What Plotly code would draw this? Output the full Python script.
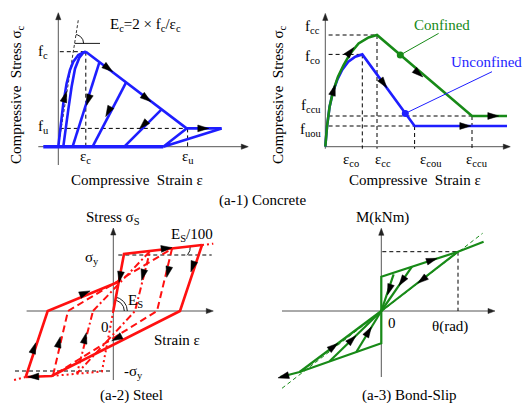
import numpy as np
import plotly.graph_objects as go

W, H = 523, 403
FONT = "Liberation Serif"

# ---------------- data (local units, origin at each panel's axis origin) -------------
# (a-1) Concrete
conc_up_x = [0, 2.7, 5, 8.3, 11.7, 15, 20, 25, 27.5]
conc_up_y = [0, 23.3, 43.3, 63.3, 76.7, 85, 91.7, 94.3, 95]
conc_re_x = [5, 7.5, 10, 13.3, 16.7, 21, 25, 27.5]
conc_re_y = [0, 20, 37, 60, 78, 89, 94, 95]
conc_soft_x = [27.5, 128.3, 163.3]
conc_soft_y = [95, 18.3, 18.3]
conc_tail_x = [128.3, 105, 163.3]
conc_tail_y = [18.3, 0, 18.3]
conc_base_x = [-15, 105]
conc_base_y = [0, 0]
conc_unl_x0 = [41, 67.7, 103.3]
conc_unl_y0 = [84, 64, 37.3]
conc_unl_x1 = [14.3, 34.3, 66]
conc_unl_y1 = [0, 0, 0]
conc_fc, conc_fu, conc_ec, conc_eu = 95, 18.3, 27.5, 129.3
conc_tan_x = [0, 20]
conc_tan_y = [0, 126.7]
conc_arr_x = [6.7, 30, 50, 50, 88.3, 85, 145]
conc_arr_y = [50, 46.7, 35, 78.3, 48.3, 21.7, 18.3]
conc_arr_dx = [0.3, -26.7, -33.4, 100.6, 100.6, -37.3, 1]
conc_arr_dy = [1, -84, -64, -76.7, -76.7, -37.3, 0]

# (a-1) Confined / Unconfined
conf_x = [0, 1.7, 4.3, 7.7, 12.7, 18.3, 25, 33.3, 43.3, 51.7, 146.7, 181.7]
conf_y = [0, 20, 40, 55, 70, 81.7, 93.3, 103.3, 109.3, 111.7, 30.7, 30.7]
unconf_x = [0, 1.7, 4.3, 7.7, 12, 17, 23, 30, 37, 89.3, 181.7]
unconf_y = [0, 20, 40, 55, 67, 77, 85, 90, 92.3, 20.7, 20.7]
cc_fcc, cc_fco, cc_fccu, cc_fuou = 111.7, 92.3, 30.7, 20.7
cc_ecc, cc_eco, cc_eccu, cc_ecou = 51.7, 37, 146.7, 89.3
cc_lead_conf = ([75, 113.3], [91.7, 113.3])
cc_lead_unconf = ([80, 166.7], [33.3, 75])
cc_arr_g_x = [8.3, 25, 93.3, 168]
cc_arr_g_y = [56.7, 95, 73.3, 30.7]
cc_arr_g_dx = [0.3, 1, 95, 1]
cc_arr_g_dy = [1, 1.2, -81, 0]
cc_arr_b_x = [58.3, 140]
cc_arr_b_y = [63.3, 20.7]
cc_arr_b_dx = [52.6, 1]
cc_arr_b_dy = [-71.6, 0]

# (a-2) Steel
st_outer1_x = [0, 10.7, 88.7]
st_outer1_y = [0, 57, 66]
st_outer2_x = [88.7, 66.7, -61.6, -87.6]
st_outer2_y = [66, 0, -65, -66]
st_outer3_x = [-87.6, -65.6, 5.5]
st_outer3_y = [-66, 0, 29.3]
st_dot_pos_x = [88.7, 100]
st_dot_pos_y = [66, 67.3]
st_dot_neg_x = [-87.6, -99.3]
st_dot_neg_y = [-66, -69]
st_skel_neg_x = [0, -11.4, -61.6]
st_skel_neg_y = [0, -60.5, -65]
st_cyc2_x = [-45.3, 58.7, 43.7, -60.3, -45.3]
st_cyc2_y = [0, 62.3, 0, -64.5, 0]
st_cyc1_x = [-20.3, 36.7, 21.7, -36.3, -20.3]
st_cyc1_y = [0, 59.8, 0, -62.5, 0]
st_sy = 56
st_arr_x = [53.3, 79.3, 3.3, -80, -79.3, -28.3, 6.7, 54.7, -54.3, 29.7, -28.3]
st_arr_y = [62.7, 44.3, -27.3, -65.7, -37, 18, 34, 39, -31, 36, -27]
st_arr_dx = [78, -22, -128.3, -26, 22, 71, -10.7, -15, 16.3, -15, 16]
st_arr_dy = [9, -66, -65, -1, 66, 29.3, -57, -62, 65, -59.5, 62.5]

# (a-3) Bond-slip
bs_up_x = [0, 0, 76.7, 102.3]
bs_up_y = [0, 34.3, 59.3, 69.3]
bs_lo_x = [0, 0, -81.7, -101]
bs_lo_y = [0, -32.3, -61, -66]
bs_rays_x = [76.7, 30.7, 12.3, -81.7, -51.7, -25]
bs_rays_y = [59.3, 44.3, 36.7, -61, -50.3, -41]
bs_ext_x = [-99.3, 101.3]
bs_ext_y = [-77.3, 77.7]
bs_arr_x = [50.7, 40.7, 20.7, 8, -47.7, -29.3, -12.7, -98]
bs_arr_y = [51, 31, 29.7, 21.3, -35.6, -28.5, -20.5, -65.5]
bs_arr_dx = [76.7, -76.7, -30.7, -12.3, 81.7, 51.7, 25, -19.3]
bs_arr_dy = [25, -59.3, -44.3, -36.7, 61, 50.3, 41, -5]

# axis extents per panel: (y_bottom, y_top, x_left, x_right)
axis_ext = {1: (-18.3, 134, -20, 190), 2: (-2, 133.3, 0, 185),
            3: (-69, 83, -86.7, 100), 4: (-66, 82.7, -99.3, 113.7)}

# ---------------- layout geometry ----------------
BOX = {1: (0, 0, 262, 195), 2: (262, 0, 523, 195), 3: (0, 195, 262, 403), 4: (262, 195, 523, 403)}
ORIGIN = {1: (58.3, 146.7), 2: (325.3, 146.7), 3: (113.3, 311.0), 4: (381.3, 311.0)}

BLUE = "#1e1eff"
GREEN = "#178a17"
RED = "#ff1010"
AX = "#555555"

fig = go.Figure()


def ax_ids(p):
    return ("x" if p == 1 else f"x{p}", "y" if p == 1 else f"y{p}")


def line(p, xs, ys, color, width, dash="solid"):
    xa, ya = ax_ids(p)
    fig.add_trace(go.Scatter(x=list(xs), y=list(ys), mode="lines", xaxis=xa, yaxis=ya,
                             line=dict(color=color, width=width, dash=dash),
                             hoverinfo="skip", showlegend=False))


def heads(p, px, py, dx, dy, L=11, w=3.4, color="black"):
    xs, ys = [], []
    for x, y, u, v in zip(px, py, dx, dy):
        n = np.hypot(u, v)
        u, v = u / n, v / n
        tx, ty = x + u * L / 2, y + v * L / 2
        bx, by = x - u * L / 2, y - v * L / 2
        xs += [tx, bx - v * w, bx + v * w, tx, None]
        ys += [ty, by + u * w, by - u * w, ty, None]
    xa, ya = ax_ids(p)
    fig.add_trace(go.Scatter(x=xs, y=ys, mode="lines", fill="toself", fillcolor=color,
                             line=dict(color=color, width=0.5), xaxis=xa, yaxis=ya,
                             hoverinfo="skip", showlegend=False))


def arc(p, cx, cy, r, a0, a1, color="black", width=1):
    t = np.radians(np.linspace(a0, a1, 30))
    line(p, cx + r * np.cos(t), cy + r * np.sin(t), color, width)


def axes_lines(p):
    yb, yt, xl, xr = axis_ext[p]
    line(p, [0, 0], [yb, yt - 3], AX, 1)
    line(p, [xl, xr - 3], [0, 0], AX, 1)
    heads(p, [0, xr - 3.5], [yt - 3.5, 0], [0, 1], [1, 0], L=7, w=2.6, color="#222222")


annotations = []


def lab(px, py, text, size=15, color="black", angle=0, xanchor="center"):
    annotations.append(dict(x=px / W, y=1 - py / H, xref="paper", yref="paper", text=text,
                            showarrow=False, textangle=angle, xanchor=xanchor, yanchor="middle",
                            font=dict(family=FONT, size=size, color=color)))


GD = "4px,3px"

# ---------------- panel 1 : concrete ----------------
axes_lines(1)
line(1, [1.5, conc_ec], [conc_fc, conc_fc], "black", 1, GD)
line(1, [conc_ec, conc_ec], [conc_fc, -2], "black", 1, GD)
line(1, [1.5, conc_eu], [conc_fu, conc_fu], "black", 1, GD)
line(1, [conc_eu, conc_eu], [conc_fu, -2], "black", 1, GD)
line(1, conc_tan_x, conc_tan_y, "black", 0.8, "3px,2px")
line(1, [16.3, 41.7], [103.3, 103.3], "black", 0.9)
arc(1, 16.3, 103.3, 9, 0, 81, "black", 0.9)
line(1, conc_base_x, conc_base_y, BLUE, 3.5)
line(1, conc_up_x, conc_up_y, BLUE, 2.6)
line(1, conc_re_x, conc_re_y, BLUE, 2.6)
line(1, conc_soft_x, conc_soft_y, BLUE, 2.6)
line(1, conc_tail_x, conc_tail_y, BLUE, 2.6)
for a, b, c, d in zip(conc_unl_x0, conc_unl_y0, conc_unl_x1, conc_unl_y1):
    line(1, [a, c], [b, d], BLUE, 2.6)
heads(1, conc_arr_x, conc_arr_y, conc_arr_dx, conc_arr_dy)

lab(145, 25, "E<sub>c</sub>=2 × f<sub>c</sub>/ε<sub>c</sub>", 15)
lab(43, 52, "f<sub>c</sub>", 15)
lab(43, 127, "f<sub>u</sub>", 15)
lab(85, 157, "ε<sub>c</sub>", 15)
lab(188, 157, "ε<sub>u</sub>", 15)
lab(17, 95, "Compressive  Stress σ<sub>c</sub>", 15, angle=-90)
lab(137, 180, "Compressive  Strain ε", 15)
lab(262, 200, "(a-1) Concrete", 15)

# ---------------- panel 2 : confined ----------------
axes_lines(2)
for yv, xv in [(cc_fcc, cc_ecc), (cc_fco, cc_eco), (cc_fccu, cc_eccu), (cc_fuou, cc_ecou)]:
    line(2, [3.3, xv], [yv, yv], "black", 1, GD)
    line(2, [xv, xv], [yv, -2], "black", 1, GD)
line(2, unconf_x, unconf_y, BLUE, 2.6)
line(2, conf_x, conf_y, GREEN, 2.6)
line(2, cc_lead_conf[0], cc_lead_conf[1], GREEN, 1)
line(2, cc_lead_unconf[0], cc_lead_unconf[1], BLUE, 1)
fig.add_trace(go.Scatter(x=[cc_lead_conf[0][0]], y=[cc_lead_conf[1][0]], mode="markers", xaxis="x2", yaxis="y2",
                         marker=dict(color=GREEN, size=7), hoverinfo="skip", showlegend=False))
fig.add_trace(go.Scatter(x=[cc_lead_unconf[0][0]], y=[cc_lead_unconf[1][0]], mode="markers", xaxis="x2", yaxis="y2",
                         marker=dict(color=BLUE, size=7), hoverinfo="skip", showlegend=False))
heads(2, cc_arr_g_x, cc_arr_g_y, cc_arr_g_dx, cc_arr_g_dy)
heads(2, cc_arr_b_x, cc_arr_b_y, cc_arr_b_dx, cc_arr_b_dy)

lab(312, 27, "f<sub>cc</sub>", 15)
lab(312, 57, "f<sub>co</sub>", 15)
lab(311, 106, "f<sub>ccu</sub>", 15)
lab(311, 130, "f<sub>uou</sub>", 15)
lab(351, 160, "ε<sub>co</sub>", 15)
lab(383, 160, "ε<sub>cc</sub>", 15)
lab(431, 160, "ε<sub>cou</sub>", 15)
lab(477, 160, "ε<sub>ccu</sub>", 15)
lab(442, 25, "Confined", 15, GREEN)
lab(487, 62, "Unconfined", 15, BLUE)
lab(279, 95, "Compressive  Stress σ<sub>c</sub>", 15, angle=-90)
lab(415, 180, "Compressive  Strain ε", 15)

# ---------------- panel 3 : steel ----------------
axes_lines(3)
line(3, [5, 98.4], [st_sy, st_sy], "black", 1, GD)
line(3, [-98.3, -3.3], [-st_sy - 4, -st_sy - 4], "black", 1, GD)
arc(3, 0, 0, 11, 0, 79, "black", 0.9)
arc(3, 0, 0, 14, 0, 79, "black", 0.9)
arc(3, 66, 63.5, 11, 7, -45, "black", 0.9)
line(3, st_skel_neg_x, st_skel_neg_y, RED, 2, "2px,3px")
line(3, st_cyc1_x, st_cyc1_y, RED, 2, "7px,3px,2px,3px")
line(3, st_cyc2_x, st_cyc2_y, RED, 2, "7px,4px")
line(3, st_outer1_x, st_outer1_y, RED, 2.6)
line(3, st_outer2_x, st_outer2_y, RED, 2.6)
line(3, st_outer3_x, st_outer3_y, RED, 2.6)
line(3, st_dot_pos_x, st_dot_pos_y, RED, 2, "2px,3px")
line(3, st_dot_neg_x, st_dot_neg_y, RED, 2, "2px,3px")
heads(3, st_arr_x, st_arr_y, st_arr_dx, st_arr_dy)

lab(113, 218, "Stress σ<sub>S</sub>", 15)
lab(177, 340, "Strain ε", 15)
lab(105, 327, "0", 15)
lab(92, 258, "σ<sub>y</sub>", 15)
lab(133, 372, "-σ<sub>y</sub>", 15)
lab(192, 235, "E<sub>S</sub>/100", 15)
lab(135, 301, "E<sub>S</sub>", 15)
lab(131, 395, "(a-2) Steel", 15)

# ---------------- panel 4 : bond-slip ----------------
axes_lines(4)
line(4, [1, bs_rays_x[0]], [bs_rays_y[0], bs_rays_y[0]], "black", 1, GD)
line(4, [bs_rays_x[0], bs_rays_x[0]], [bs_rays_y[0], 0], "black", 1, GD)
line(4, bs_ext_x, bs_ext_y, GREEN, 1, "4px,3px")
for rx, ry in zip(bs_rays_x, bs_rays_y):
    line(4, [0, rx], [0, ry], GREEN, 2.2)
line(4, bs_up_x, bs_up_y, GREEN, 2.2)
line(4, bs_lo_x, bs_lo_y, GREEN, 2.2)
heads(4, bs_arr_x, bs_arr_y, bs_arr_dx, bs_arr_dy)

lab(382, 217, "M(kNm)", 15)
lab(392, 323, "0", 15)
lab(450, 326, "θ(rad)", 15)
lab(409, 395, "(a-3) Bond-Slip", 15)

# ---------------- axes ----------------
layout_axes = {}
for p in range(1, 5):
    x0, y0, x1, y1 = BOX[p]
    ox, oy = ORIGIN[p]
    xk = "xaxis" if p == 1 else f"xaxis{p}"
    yk = "yaxis" if p == 1 else f"yaxis{p}"
    layout_axes[xk] = dict(domain=[x0 / W, x1 / W], range=[x0 - ox, x1 - ox], visible=False,
                           fixedrange=True, anchor="y" if p == 1 else f"y{p}")
    layout_axes[yk] = dict(domain=[1 - y1 / H, 1 - y0 / H], range=[oy - y1, oy - y0], visible=False,
                           fixedrange=True, anchor="x" if p == 1 else f"x{p}")

fig.update_layout(width=W, height=H, margin=dict(l=0, r=0, t=0, b=0), paper_bgcolor="white",
                  plot_bgcolor="rgba(0,0,0,0)", showlegend=False, annotations=annotations,
                  **layout_axes)
fig.write_html("out.html", config={"displayModeBar": False},
               post_script="document.body.style.margin='0';document.body.style.padding='0';")
